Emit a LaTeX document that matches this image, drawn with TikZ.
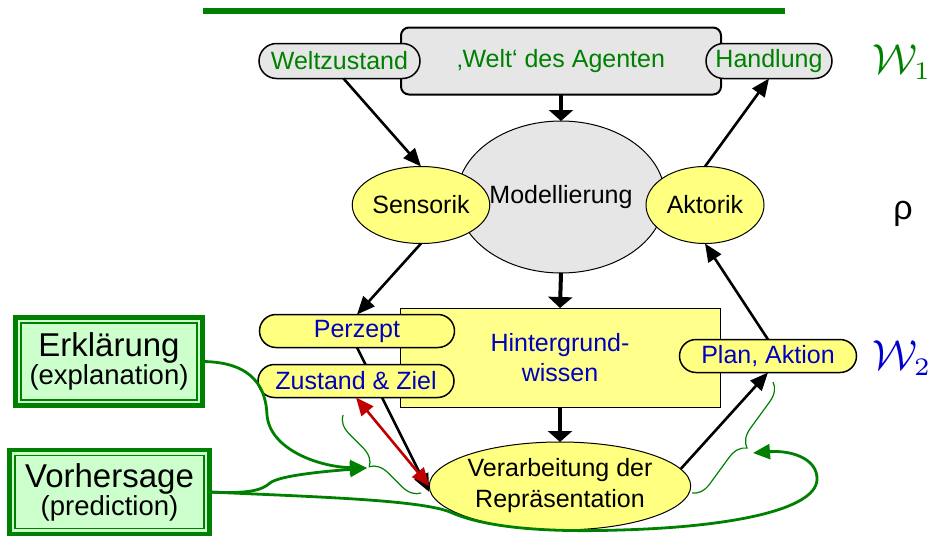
\documentclass[tikz,border=0pt]{standalone}
\usepackage[no-math]{fontspec}
\setmainfont{Liberation Sans}
\DeclareMathSizes{10}{10}{6}{5}
\usetikzlibrary{arrows.meta,shapes.geometric,decorations.pathreplacing}
\definecolor{dgreen}{RGB}{0,128,0}
\definecolor{tblue}{RGB}{0,0,190}
\definecolor{wblue}{RGB}{0,0,204}
\definecolor{ylw}{RGB}{255,255,128}
\definecolor{ylwbox}{RGB}{255,255,140}
\definecolor{gry}{RGB}{230,230,230}
\definecolor{lgreen}{RGB}{204,255,204}
\definecolor{dred}{RGB}{192,0,0}
\begin{document}
\begin{tikzpicture}[x=1pt,y=-1pt,
  every node/.style={font=\fontsize{25}{30}\selectfont, inner sep=0pt, outer sep=0pt},
  pill/.style={draw, line width=1.5pt, rounded corners=16.5pt, minimum height=33pt},
  graypill/.style={pill, fill=gry, text=dgreen, minimum height=35pt, rounded corners=17.5pt},
  ylwpill/.style={pill, fill=ylw, text=tblue},
  ylwell/.style={ellipse, draw, line width=1pt, fill=ylw},
  vert/.style={line width=4pt, -{Triangle[length=11pt,width=24pt]}},
  diag/.style={line width=2.6pt, -{Triangle[length=18pt,width=15pt]}},
  redarrow/.style={dred, line width=2.6pt, {Triangle[length=18pt,width=15pt]}-{Triangle[length=18pt,width=15pt]}},
  gcurve/.style={dgreen, line width=2.8pt},
  garrow/.style={gcurve, -{Triangle[length=17pt,width=15pt]}},
  gbrace/.style={dgreen, line width=1.2pt, decorate, decoration={brace, amplitude=18pt}},
  greenbox/.style={draw=dgreen, line width=4.5pt, fill=lgreen, align=center},
  wlabel/.style={scale=4.2, font=\fontsize{10}{12}\selectfont}
]
\useasboundingbox (0,0) rectangle (935,536);

% top bar
\draw[dgreen, line width=6pt] (203,11) -- (785,11);

% world
\node[draw, line width=2pt, fill=gry, rounded corners=8pt, minimum width=320pt, minimum height=67pt, text=dgreen] (welt) at (561,61) {‚Welt‘ des Agenten};
\node[graypill, minimum width=161pt] (wz) at (339.5,61) {Weltzustand};
\node[graypill, minimum width=126pt] (hand) at (769,61) {Handlung};

% middle
\node[ellipse, draw, line width=1pt, fill=gry, minimum width=208pt, minimum height=152pt] (model) at (561,197) {Modellierung};
\node[ylwell, minimum width=118pt, minimum height=77pt] (sens) at (421,205) {Sensorik};
\node[ylwell, minimum width=118pt, minimum height=77pt] (akt) at (705,205) {Aktorik};

% lower
\node[draw, line width=1pt, fill=ylwbox, minimum width=320pt, minimum height=99pt, text=tblue, align=center] (hint) at (560,357.5) {Hintergrund-\\wissen};
\node[ylwpill, minimum width=195pt] (perz) at (357,331) {Perzept};
\node[ylwell, minimum width=240pt, minimum height=88pt, align=center, font=\fontsize{25}{31}\selectfont] (verarb) at (560,486) {Verarbeitung der\\Repräsentation};
\draw[diag] (perz.south) -- ([yshift=-6pt]verarb.west);
\node[ylwpill, minimum width=196pt] (zust) at (356,381) {Zustand \& Ziel};
\node[ylwpill, minimum width=177pt] (plan) at (768,356) {Plan, Aktion};

% black arrows
\draw[vert] (welt.south) -- (model.north);
\draw[vert] (model.south) -- (hint.north);
\draw[vert] (hint.south) -- (verarb.north);
\draw[diag] ([xshift=4pt]wz.south) -- (sens.north);
\draw[diag] (akt.north) -- (hand.south);
\draw[diag] (sens.south) -- (perz.north);
\draw[diag] (plan.north) -- (akt.south);
\draw[diag] (verarb.8) -- (plan.south);

% red arrow
\draw[redarrow] (zust.south) -- (verarb.west);

% green boxes
\node[greenbox, minimum width=187pt, minimum height=88pt] (erk) at (109,361.5)
  {{\fontsize{33}{38}\selectfont Erklärung}\\[-2pt]{\fontsize{27.5}{32}\selectfont (explanation)}};
\draw[dgreen, line width=1.2pt] ([shift={(5.5,5.5)}]erk.north west) rectangle ([shift={(-5.5,-5.5)}]erk.south east);
\node[greenbox, minimum width=200pt, minimum height=84pt] (vorh) at (109.5,492)
  {{\fontsize{33}{38}\selectfont Vorhersage}\\[-2pt]{\fontsize{27.5}{32}\selectfont (prediction)}};
\draw[dgreen, line width=1.2pt] ([shift={(5.5,5.5)}]vorh.north west) rectangle ([shift={(-5.5,-5.5)}]vorh.south east);

% braces
\coordinate (lb1) at (421,493);
\coordinate (lb2) at (343,415);
\coordinate (rb1) at (773,382);
\coordinate (rb2) at (692,493);
\draw[gbrace] (lb1) -- (lb2);
\draw[gbrace] (rb1) -- (rb2);

% green curves
\coordinate (ltip) at (367,468);
\coordinate (rtip) at (753,453);
\draw[garrow] (erk.east) .. controls (255,362) and (266,390) .. (267,415)
  .. controls (270,450) and (320,467) .. (ltip);
\draw[garrow] (vorh.east) .. controls (250,494) and (262,490) .. (270,483)
  .. controls (280,475) and (330,471) .. (ltip);
\draw[garrow] (vorh.east) .. controls (320,497) and (420,500) .. (450,512)
  .. controls (490,530) and (560,532) .. (620,530)
  .. controls (730,527) and (815,510) .. (817,480)
  .. controls (818,458) and (790,450) .. (rtip);

% right labels
\node[wlabel, text=dgreen] (w1) at (902,62) {$\mathcal{W}_1$};
\node[font=\fontsize{34}{38}\selectfont] (rho) at (903,214) {ρ};
\node[wlabel, text=wblue] (w2) at (902,358) {$\mathcal{W}_2$};
\end{tikzpicture}
\end{document}
